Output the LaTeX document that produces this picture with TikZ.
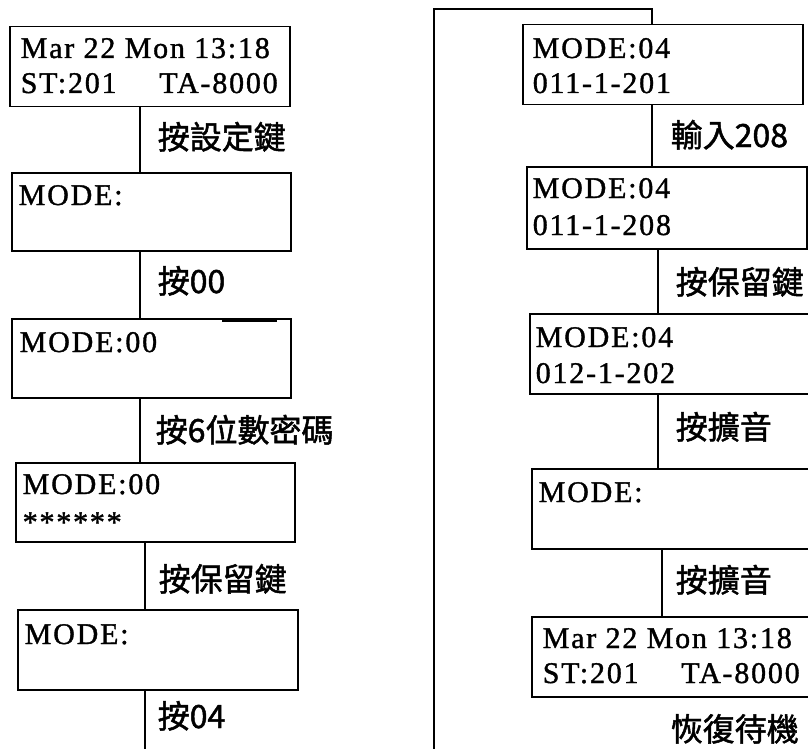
\documentclass[tikz,border=0pt]{standalone}
\usepackage{fontspec}
\setmainfont{Liberation Serif}[LetterSpace=6,FakeBold=1.2]
\newfontfamily\cjk{Noto Sans CJK TC}[FakeBold=1.5]
\begin{document}
\begin{tikzpicture}[x=1pt,y=-1pt,line width=1.5pt,
  box/.style={draw,rectangle,anchor=north west,inner sep=0pt},
  txt/.style={anchor=base west,inner sep=0pt,font=\fontsize{30}{30}\selectfont},
  lab/.style={anchor=base west,inner sep=0pt,font=\cjk\fontsize{32}{32}\selectfont}]
\useasboundingbox (0,0) rectangle (808,749);
\clip (0,0) rectangle (808,749);
% left column boxes
\node[box,minimum width=280pt,minimum height=80pt] (b1) at (9,26) {};
\node[box,minimum width=279pt,minimum height=78pt] (b2) at (11,172) {};
\node[box,minimum width=279pt,minimum height=79pt] (b3) at (11,318) {};
\node[box,minimum width=279pt,minimum height=79pt] (b4) at (15,462) {};
\node[box,minimum width=280pt,minimum height=80pt] (b5) at (17,609) {};
% right column boxes
\node[box,minimum width=280pt,minimum height=80pt] (r1) at (522,24) {};
\node[box,minimum width=280pt,minimum height=82pt] (r2) at (526,166) {};
\node[box,minimum width=282pt,minimum height=80pt] (r3) at (529,313) {};
\node[box,minimum width=282pt,minimum height=80pt] (r4) at (531,468) {};
\node[box,minimum width=282pt,minimum height=80pt] (r5) at (531,616) {};
% box texts
\node[txt] at (20,58) {Mar 22 Mon 13:18};
\node[txt] at (20,93) {\makebox[257pt][l]{ST:201\hfill TA-8000}};
\node[txt] at (18,205) {MODE:};
\node[txt] at (19,352) {MODE:00};
\node[txt] at (22,494) {MODE:00};
\node[txt] at (22,532) {******};
\node[txt] at (24,644) {MODE:};
\node[txt] at (532,58) {MODE:04};
\node[txt] at (532,93) {011-1-201};
\node[txt] at (532,198) {MODE:04};
\node[txt] at (532,235) {011-1-208};
\node[txt] at (535,347) {MODE:04};
\node[txt] at (535,383) {012-1-202};
\node[txt] at (538,502) {MODE:};
\node[txt] at (542,648) {Mar 22 Mon 13:18};
\node[txt] at (542,683) {\makebox[257pt][l]{ST:201\hfill TA-8000}};
% small mark on box 3
\draw[line width=3pt] (222,320.5) -- (277,320.5);
% connector x positions
\coordinate (ca) at (140,0);
\coordinate (cb) at (145,0);
\coordinate (cr1) at (652,0);
\coordinate (cr2) at (658,0);
\coordinate (cr3) at (662,0);
\coordinate (lend) at (145,749);
\coordinate (rend) at (434,749);
\coordinate (rtop) at (434,9);
% connectors
\draw (b1.south -| ca) -- (b2.north -| ca);
\draw (b2.south -| ca) -- (b3.north -| ca);
\draw (b3.south -| ca) -- (b4.north -| ca);
\draw (b4.south -| cb) -- (b5.north -| cb);
\draw (b5.south -| cb) -- (lend);
\draw (rend) -- (rtop) -| (r1.north -| cr1);
\draw (r1.south -| cr1) -- (r2.north -| cr1);
\draw (r2.south -| cr2) -- (r3.north -| cr2);
\draw (r3.south -| cr2) -- (r4.north -| cr2);
\draw (r4.south -| cr3) -- (r5.north -| cr3);
% labels
\node[lab] at (157,149) {按設定鍵};
\node[lab] at (157,293) {按00};
\node[lab] at (155,442) {按6位數密碼};
\node[lab] at (158,591) {按保留鍵};
\node[lab] at (157,728) {按04};
\node[lab] at (670,147) {輸入208};
\node[lab] at (675,294) {按保留鍵};
\node[lab] at (675,439) {按擴音};
\node[lab] at (675,592) {按擴音};
\node[lab] at (670,741) {恢復待機};
\end{tikzpicture}
\end{document}
